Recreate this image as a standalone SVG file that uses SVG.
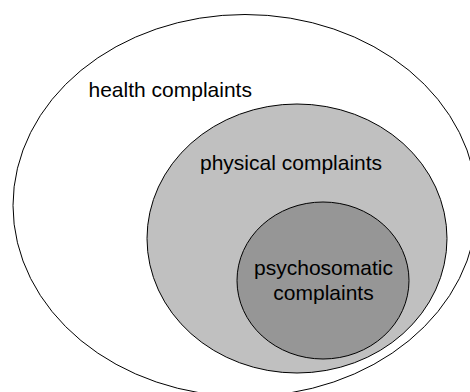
<svg xmlns="http://www.w3.org/2000/svg" width="470" height="392" viewBox="0 0 470 392">
  <style>
    .set { stroke: #000; stroke-width: 1; }
    .label { font-family: "Liberation Sans", Arial, sans-serif; font-size: 21px; fill: #000; }
  </style>
  <rect width="470" height="392" fill="#fff"/>
  <g id="health">
    <ellipse class="set" cx="245" cy="205.5" rx="232" ry="191" fill="#fff"/>
    <text class="label" x="88.5" y="97">health complaints</text>
  </g>
  <g id="physical">
    <ellipse class="set" cx="297" cy="238.5" rx="150" ry="134.5" fill="#c0c0c0"/>
    <text class="label" x="200" y="170">physical complaints</text>
  </g>
  <g id="psychosomatic">
    <ellipse class="set" cx="323" cy="280.5" rx="86" ry="78.5" fill="#969696"/>
    <text class="label" x="323.5" y="274.5" text-anchor="middle">psychosomatic</text>
    <text class="label" x="323.5" y="300" text-anchor="middle">complaints</text>
  </g>
  <g id="connectors"/>
</svg>
